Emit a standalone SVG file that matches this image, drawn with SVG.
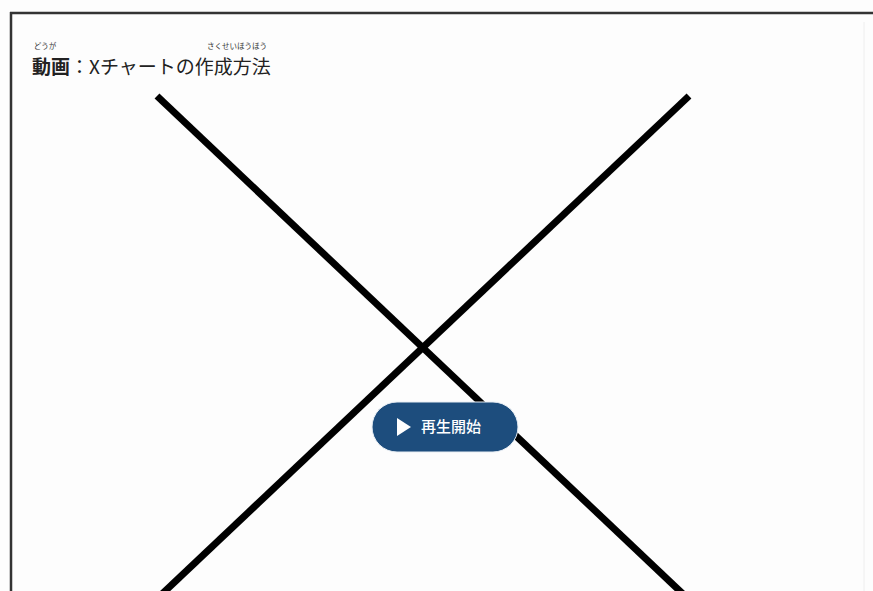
<svg xmlns="http://www.w3.org/2000/svg" width="873" height="591" viewBox="0 0 873 591">
<style>
.ttl{font-family:"Noto Sans CJK JP","Noto Sans",sans-serif;font-size:19px;fill:#222}
.rb{font-family:"Noto Sans CJK JP",sans-serif;font-size:7.5px;fill:#333}
.x{stroke:#000;stroke-width:7;stroke-linecap:butt}
.btn{font-family:"Noto Sans CJK JP",sans-serif;font-size:15px;fill:#fff;font-weight:500}
</style>
<rect x="0" y="0" width="873" height="591" fill="#fdfdfd"/>
<g id="frame">
<line x1="10" y1="13" x2="873" y2="13" stroke="#333" stroke-width="2.5"/>
<line x1="11" y1="12" x2="11" y2="591" stroke="#333" stroke-width="2.5"/>
<line x1="864" y1="22" x2="864" y2="591" stroke="#eee" stroke-width="1"/>
</g>
<g id="title">
<text class="rb" x="45" y="49" text-anchor="middle">どうが</text>
<text class="rb" x="237" y="49" text-anchor="middle">さくせいほうほう</text>
<text class="ttl" x="32" y="74"><tspan font-weight="bold">動画</tspan>：Xチャートの作成方法</text>
</g>
<g id="connectors">
<line class="x" x1="157" y1="96" x2="683" y2="594"/>
<line class="x" x1="689" y1="96" x2="162" y2="594"/>
</g>
<g id="play-button">
<rect x="372" y="402" width="146" height="50" rx="25" fill="#1d4d7d" stroke="#e8eef4" stroke-width="1"/>
<polygon points="397,418 397,436 411,427" fill="#fff"/>
<text class="btn" x="421" y="432">再生開始</text>
</g>
</svg>
